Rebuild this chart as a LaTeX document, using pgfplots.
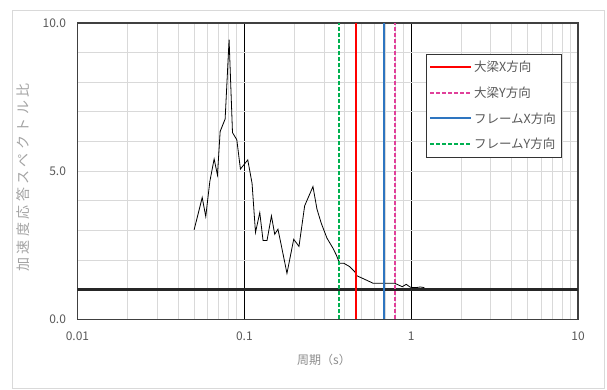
\documentclass[border=0pt]{standalone}
\usepackage{fontspec}
\setmainfont{Noto Sans CJK JP}
\usepackage{pgfplots}
\pgfplotsset{compat=1.18}
\definecolor{tickgray}{HTML}{595959}
\definecolor{titlegray}{HTML}{8C8C8C}
\definecolor{gridgray}{HTML}{D9D9D9}
\definecolor{cred}{HTML}{FF0000}
\definecolor{cblue}{HTML}{2E75C0}
\definecolor{cmag}{HTML}{E0409A}
\definecolor{cgreen}{HTML}{00B050}
\begin{document}
\begin{tikzpicture}[x=1pt,y=1pt]
\path (0,0) rectangle (607,389);
\draw[gridgray, line width=0.8pt] (12.5,378.5) rectangle (604,1);
\begin{axis}[
  at={(77.5pt,69.7pt)}, anchor=south west,
  scale only axis, width=500.6pt, height=296.3pt,
  xmode=log, xmin=0.01, xmax=10, ymin=0, ymax=10,
  xtick={0.01,0.1,1,10}, xticklabels={0.01,0.1,1,10},
  ytick={0,5,10}, yticklabels={0.0,5.0,10.0},
  minor ytick={1,2,3,4,6,7,8,9},
  xmajorgrids, xminorgrids, ymajorgrids, yminorgrids,
  major x grid style={black, line width=0.6pt},
  minor x grid style={gridgray, line width=0.8pt},
  major y grid style={gridgray, line width=0.8pt},
  minor y grid style={gridgray, line width=0.8pt},
  major tick length=0pt, minor tick length=0pt,
  axis line style={draw=black!75, line width=1.3pt},
  tick label style={font=\fontsize{12}{14}\selectfont, text=tickgray},
  xticklabel style={yshift=-9pt},
  yticklabel style={xshift=-8pt},
  xlabel={周期（s）},
  xlabel style={at={(rel axis cs:0.4924,-0.1374)}, anchor=center, font=\fontsize{12}{14}\selectfont, text=titlegray},
  ylabel={\addfontfeatures{LetterSpace=25}加速度応答スペクトル比},
  ylabel style={at={(rel axis cs:-0.1089,0.4786)}, anchor=center, font=\fontsize{14}{16}\selectfont, text=titlegray!80},
  legend style={at={(rel axis cs:0.6956,0.8954)}, anchor=north west,
    draw=black!80, line width=0.8pt, fill=white,
    font=\fontsize{12.5}{14}\selectfont, text=tickgray,
    row sep=9.5pt, inner xsep=3pt, inner ysep=5pt},
  legend cell align=left,
  legend image code/.code={\draw[#1] (0pt,0pt) -- (41pt,0pt);},
]
\addplot[black!85, line width=3pt, forget plot] coordinates {(0.01,1) (10,1)};
\addplot[black, line width=0.8pt, forget plot] coordinates {
(0.050,3.02) (0.0559,4.11) (0.0587,3.47) (0.0621,4.65) (0.0659,5.41)
(0.0690,4.87) (0.0716,6.34) (0.0767,6.76) (0.0810,9.44) (0.0849,6.30)
(0.0901,6.06) (0.0947,5.07) (0.1048,5.38) (0.1112,4.59) (0.1166,2.93)
(0.1237,3.60) (0.1294,2.66) (0.1367,2.66) (0.1453,3.49) (0.152,2.87)
(0.159,3.04) (0.1667,2.48) (0.180,1.55) (0.1976,2.70) (0.2125,2.46)
(0.2298,3.83) (0.2577,4.48) (0.2723,3.72) (0.289,3.24) (0.3126,2.74)
(0.3395,2.40) (0.3557,2.17) (0.3724,1.89) (0.395,1.89) (0.427,1.78)
(0.458,1.61) (0.472,1.47) (0.526,1.35) (0.589,1.22) (0.676,1.22)
(0.794,1.22) (0.883,1.10) (0.933,1.18) (0.99,1.08) (1.07,1.07)
(1.132,1.09) (1.20,1.07)
};
\addplot[cred, line width=2pt] coordinates {(0.469,0) (0.469,10)};
\addlegendentry{大梁X方向}
\addplot[cmag, line width=2pt, dash pattern=on 4pt off 2pt] coordinates {(0.794,0) (0.794,10)};
\addlegendentry{大梁Y方向}
\addplot[cblue, line width=2pt] coordinates {(0.686,0) (0.686,10)};
\addlegendentry{フレームX方向}
\addplot[cgreen, line width=2pt, dash pattern=on 4pt off 2pt] coordinates {(0.369,0) (0.369,10)};
\addlegendentry{フレームY方向}
\end{axis}
\end{tikzpicture}
\end{document}
